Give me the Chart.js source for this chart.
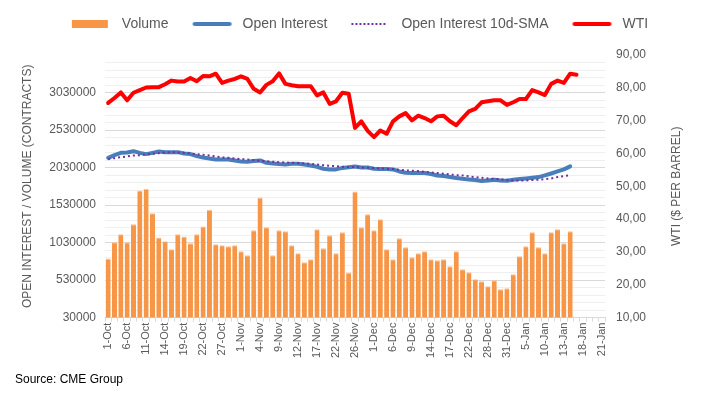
<!DOCTYPE html>
<html>
<head>
<meta charset="utf-8">
<script src="https://cdn.jsdelivr.net/npm/chart.js@4/dist/chart.umd.min.js"></script>
<style>
  html, body { margin: 0; padding: 0; background: #ffffff; }
  #wrap { width: 702px; height: 397px; }
</style>
</head>
<body>
<div id="wrap"><canvas id="chart" width="702" height="397"></canvas></div>
<script>
// ---- data ----
const dates = [
  '1-Oct','4-Oct','5-Oct','6-Oct','7-Oct','8-Oct','11-Oct','12-Oct','13-Oct','14-Oct','15-Oct',
  '18-Oct','19-Oct','20-Oct','21-Oct','22-Oct','25-Oct','26-Oct','27-Oct','28-Oct','29-Oct',
  '1-Nov','2-Nov','3-Nov','4-Nov','5-Nov','8-Nov','9-Nov','10-Nov','11-Nov','12-Nov',
  '15-Nov','16-Nov','17-Nov','18-Nov','19-Nov','22-Nov','23-Nov','24-Nov','26-Nov','29-Nov','30-Nov',
  '1-Dec','2-Dec','3-Dec','6-Dec','7-Dec','8-Dec','9-Dec','10-Dec','13-Dec','14-Dec','15-Dec',
  '16-Dec','17-Dec','20-Dec','21-Dec','22-Dec','23-Dec','27-Dec','28-Dec','29-Dec','30-Dec','31-Dec',
  '3-Jan','4-Jan','5-Jan','6-Jan','7-Jan','10-Jan','11-Jan','12-Jan','13-Jan','14-Jan',
  '17-Jan','18-Jan','19-Jan','20-Jan','21-Jan'
];

const volume = [
  817000, 1034000, 1140000, 1034000, 1273000, 1725000, 1748000, 1420000, 1096000, 1047000,
  941000, 1140000, 1110000, 1021000, 1140000, 1243000, 1469000, 1007000, 994000, 981000,
  994000, 914000, 861000, 1194000, 1632000, 1233000, 861000, 1194000, 1180000, 994000,
  888000, 768000, 808000, 1207000, 954000, 1127000, 888000, 1167000, 631000, 1712000,
  1233000, 1406000, 1194000, 1340000, 941000, 808000, 1087000, 967000, 835000, 888000,
  914000, 808000, 795000, 808000, 715000, 914000, 675000, 635000, 542000, 515000,
  449000, 529000, 409000, 422000, 608000, 848000, 981000, 1167000, 967000, 888000,
  1167000, 1207000, 1021000, 1180000
];

const openInterest = [
  2160000, 2195000, 2226000, 2230000, 2248000, 2226000, 2209000, 2226000, 2244000, 2235000,
  2235000, 2235000, 2218000, 2209000, 2182000, 2164000, 2151000, 2138000, 2138000, 2138000,
  2125000, 2111000, 2107000, 2116000, 2125000, 2093000, 2085000, 2076000, 2071000, 2080000,
  2080000, 2071000, 2058000, 2040000, 2014000, 2005000, 2005000, 2025000, 2035000, 2045000,
  2031000, 2031000, 2014000, 2009000, 2009000, 2005000, 1978000, 1960000, 1956000, 1956000,
  1956000, 1943000, 1925000, 1916000, 1903000, 1890000, 1880000, 1872000, 1863000, 1850000,
  1858000, 1867000, 1858000, 1854000, 1867000, 1876000, 1885000, 1894000, 1903000, 1925000,
  1951000, 1978000, 2005000, 2045000
];

const openInterestSMA = [
  2142000, 2155000, 2169000, 2178000, 2191000, 2195000, 2204000, 2213000, 2222000, 2230000,
  2235000, 2230000, 2226000, 2218000, 2209000, 2200000, 2191000, 2178000, 2164000, 2160000,
  2151000, 2142000, 2138000, 2129000, 2120000, 2116000, 2107000, 2102000, 2098000, 2093000,
  2089000, 2085000, 2080000, 2071000, 2062000, 2054000, 2049000, 2040000, 2036000, 2036000,
  2031000, 2027000, 2023000, 2018000, 2014000, 2009000, 2000000, 1991000, 1987000, 1983000,
  1974000, 1965000, 1956000, 1947000, 1938000, 1929000, 1925000, 1912000, 1903000, 1894000,
  1885000, 1880000, 1876000, 1867000, 1858000, 1858000, 1858000, 1863000, 1867000, 1876000,
  1885000, 1903000, 1916000, 1929000
];

const wti = [
  75.4, 76.9, 78.6, 76.2, 78.5, 79.3, 80.1, 80.2, 80.2, 81.1,
  82.2, 81.9, 81.9, 83.0, 82.0, 83.6, 83.5, 84.3, 81.5, 82.2,
  82.7, 83.5, 82.7, 79.7, 78.6, 80.9, 82.0, 84.4, 81.2, 80.8,
  80.5, 80.5, 80.5, 77.7, 78.6, 75.1, 75.9, 78.5, 78.2, 67.8,
  69.8, 66.9, 65.0, 67.0, 66.0, 69.8, 71.3, 72.3, 70.1, 71.5,
  70.8, 69.8, 71.3, 71.5, 69.8, 68.6, 70.8, 72.8, 73.6, 75.6,
  75.9, 76.2, 76.2, 74.8, 75.6, 76.6, 76.6, 79.3, 78.6, 77.8,
  81.2, 82.2, 81.5, 84.3, 84.0
];

// axis ranges / tick steps
const leftMin = 30000, leftMax = 3530000, leftMajor = 500000, leftMinor = 100000;
const rightMin = 10, rightMax = 90, rightStep = 10;

const FONT = "'Liberation Sans', Arial, sans-serif";
const GREY = '#595959';
const COLORS = { volume: '#F79646', oi: '#4A7EBB', sma: '#7030A0', wti: '#FF0000' };

Chart.defaults.font.family = FONT;
Chart.defaults.color = GREY;

// legend markers (drawn into small canvases, used as point styles)
function legendMarker(kind) {
  const c = document.createElement('canvas');
  c.width = 50; c.height = 12;
  const g = c.getContext('2d');
  if (kind === 'bar') {
    g.fillStyle = COLORS.volume;
    g.fillRect(7, 2, 36, 8);
  } else if (kind === 'sma') {
    g.strokeStyle = COLORS.sma;
    g.lineWidth = 2;
    g.setLineDash([2, 2]);
    g.beginPath(); g.moveTo(7, 6); g.lineTo(43, 6); g.stroke();
  } else {
    g.strokeStyle = kind === 'oi' ? COLORS.oi : COLORS.wti;
    g.lineWidth = 4;
    g.lineCap = 'round';
    g.beginPath(); g.moveTo(9, 6); g.lineTo(44, 6); g.stroke();
  }
  return c;
}
const markers = [legendMarker('bar'), legendMarker('oi'), legendMarker('sma'), legendMarker('wti')];

const fixedLayout = {
  id: 'fixedLayout',
  beforeUpdate(chart) {
    const lg = chart.legend;
    if (lg && !lg._fixedFit) {
      const orig = lg.fit;
      lg.fit = function () { orig.call(this); this.height = 55; };
      lg._fixedFit = true;
    }
  },
  afterDraw(chart) {
    const s = chart.scales.y1;
    const ctx = chart.ctx;
    ctx.save();
    ctx.translate(s.left + 72, (chart.chartArea.top + chart.chartArea.bottom) / 2);
    ctx.rotate(-Math.PI / 2);
    ctx.font = '12px ' + FONT;
    ctx.fillStyle = GREY;
    ctx.textAlign = 'center';
    ctx.textBaseline = 'middle';
    ctx.fillText('WTI ($ PER BARREL)', 0, 0);
    ctx.restore();
  }
};

new Chart(document.getElementById('chart'), {
  type: 'bar',
  data: {
    labels: dates,
    datasets: [
      {
        type: 'bar', label: 'Volume', data: volume, yAxisID: 'y', order: 4,
        backgroundColor: COLORS.volume, borderColor: '#FBC095',
        borderWidth: { top: 1, left: 0, right: 0, bottom: 0 },
        categoryPercentage: 1.0, barPercentage: 0.8
      },
      {
        type: 'line', label: 'Open Interest', data: openInterest, yAxisID: 'y', order: 3,
        borderColor: COLORS.oi, borderWidth: 4, pointRadius: 0, tension: 0,
        borderJoinStyle: 'round', borderCapStyle: 'round', fill: false
      },
      {
        type: 'line', label: 'Open Interest 10d-SMA', data: openInterestSMA, yAxisID: 'y', order: 2,
        borderColor: COLORS.sma, borderWidth: 2, borderDash: [2, 3], pointRadius: 0, tension: 0, fill: false
      },
      {
        type: 'line', label: 'WTI', data: wti, yAxisID: 'y1', order: 1,
        borderColor: COLORS.wti, borderWidth: 4, pointRadius: 0, tension: 0,
        borderJoinStyle: 'round', borderCapStyle: 'round', fill: false
      }
    ]
  },
  options: {
    responsive: false,
    animation: false,
    devicePixelRatio: 1,
    layout: { padding: { left: 15, right: 4, top: 0, bottom: 0 } },
    plugins: {
      tooltip: { enabled: false },
      legend: {
        position: 'top',
        align: 'center',
        labels: {
          usePointStyle: true,
          pointStyleWidth: 50,
          padding: 17,
          color: GREY,
          font: { family: FONT, size: 14 },
          generateLabels(chart) {
            return chart.data.datasets.map((ds, i) => ({
              text: ds.label,
              pointStyle: markers[i],
              fillStyle: 'rgba(0,0,0,0)',
              strokeStyle: 'rgba(0,0,0,0)',
              lineWidth: 0,
              hidden: false,
              datasetIndex: i,
              fontColor: GREY
            }));
          }
        }
      },
      title: {
        display: true,
        position: 'bottom',
        align: 'start',
        text: 'Source: CME Group',
        color: '#000000',
        font: { family: FONT, size: 12, weight: 'normal' },
        padding: { top: 0, bottom: 10 }
      }
    },
    scales: {
      x: {
        type: 'category',
        offset: true,
        grid: { display: true, drawOnChartArea: false, drawTicks: true, tickLength: 4, color: '#d9d9d9', offset: true },
        border: { display: true, color: '#d9d9d9' },
        ticks: {
          autoSkip: false, maxRotation: 90, minRotation: 90, padding: 1,
          font: { family: FONT, size: 11 }, color: GREY,
          callback: (v, i) => (i % 3 === 0 ? dates[i] : '')
        },
        afterFit(scale) { scale.height = 55; }
      },
      y: {
        position: 'left',
        min: leftMin, max: leftMax,
        border: { display: false },
        grid: {
          drawTicks: false,
          color: (c) => {
            const v = c.tick ? Math.round(c.tick.value) : 0;
            if (v >= leftMax) return 'rgba(0,0,0,0)';
            return ((v - leftMin) % leftMajor === 0) ? '#d9d9d9' : '#efefef';
          }
        },
        ticks: {
          stepSize: leftMinor, autoSkip: false, padding: 9,
          font: { family: FONT, size: 12 }, color: GREY,
          callback: (v) => {
            const r = Math.round(v);
            return ((r - leftMin) % leftMajor === 0 && r < leftMax) ? String(r) : '';
          }
        },
        title: {
          display: true, text: 'OPEN INTEREST / VOLUME (CONTRACTS)',
          color: GREY, font: { family: FONT, size: 12 }, padding: { top: 5, bottom: 0 }
        },
        afterFit(scale) { scale.width = 90; }
      },
      y1: {
        position: 'right',
        min: rightMin, max: rightMax,
        border: { display: false },
        grid: { drawOnChartArea: false, drawTicks: false },
        ticks: {
          stepSize: rightStep, autoSkip: false, padding: 11,
          font: { family: FONT, size: 12 }, color: GREY,
          callback: (v) => Number(v).toFixed(2).replace('.', ',')
        },
        afterFit(scale) { scale.width = 93; }
      }
    }
  },
  plugins: [fixedLayout]
});
</script>
</body>
</html>
